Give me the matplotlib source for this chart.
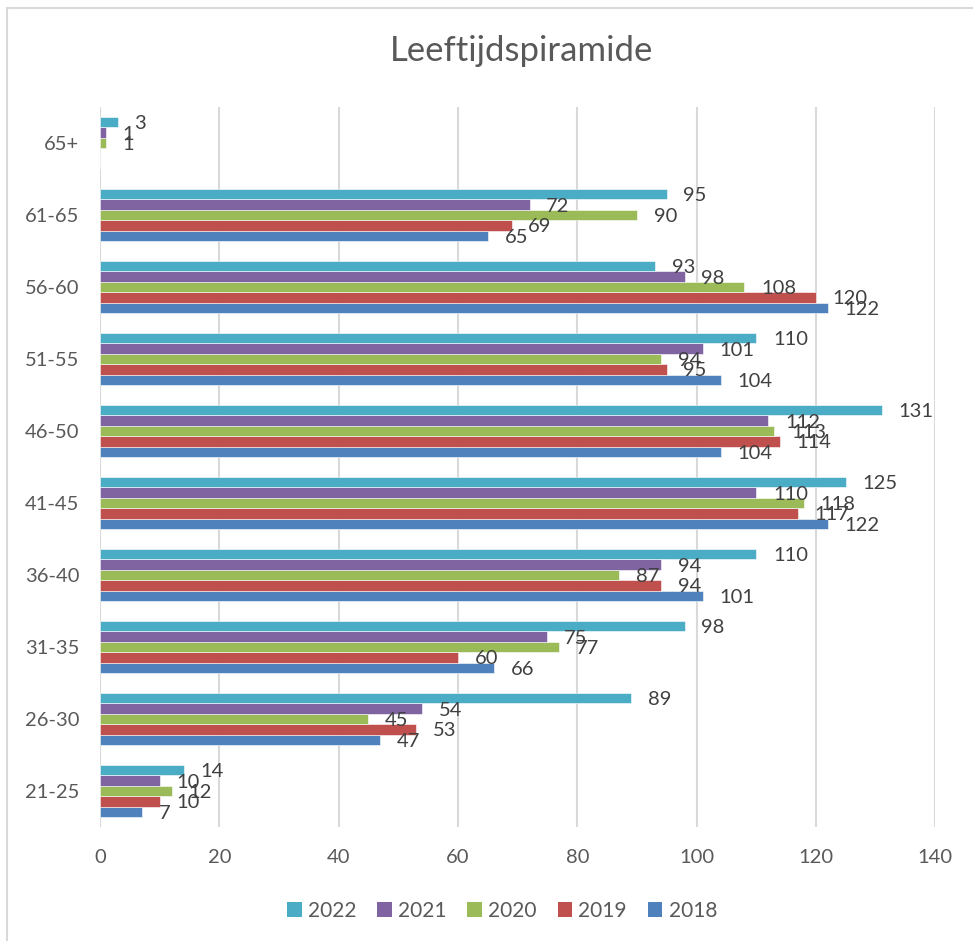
import numpy as np
import matplotlib
matplotlib.use('Agg')
import matplotlib.pyplot as plt
from matplotlib.patches import Rectangle, Patch

plt.rcParams['font.family'] = ['Lato', 'DejaVu Sans']

# data
leeftijden = ['21-25', '26-30', '31-35', '36-40', '41-45', '46-50', '51-55', '56-60', '61-65', '65+']
jaren = ['2018', '2019', '2020', '2021', '2022']
w2018 = [7, 47, 66, 101, 122, 104, 104, 122, 65, np.nan]
w2019 = [10, 53, 60, 94, 117, 114, 95, 120, 69, np.nan]
w2020 = [12, 45, 77, 87, 118, 113, 94, 108, 90, 1]
w2021 = [10, 54, 75, 94, 110, 112, 101, 98, 72, 1]
w2022 = [14, 89, 98, 110, 125, 131, 110, 93, 95, 3]
reeksen = [w2018, w2019, w2020, w2021, w2022]
kleuren = ['#4F81BD', '#C0504D', '#9BBB59', '#8064A2', '#4BACC6']

fig = plt.figure(figsize=(9.73, 9.41), dpi=100)
ax = fig.add_axes([100/973, 1 - 827/941, 835.3/973, 720/941])

y = np.arange(len(leeftijden))
h = 0.144
for j, (vals, kleur) in enumerate(zip(reeksen, kleuren)):
    vals = np.array(vals, dtype=float)
    pos = y + (j - 2) * h
    ax.barh(pos, np.nan_to_num(vals), height=h, color=kleur,
            edgecolor='white', linewidth=0.4, zorder=3)
    for p, v in zip(pos, vals):
        if np.isnan(v):
            continue
        ax.annotate(str(int(v)), (v, p), xytext=(12, -1), textcoords='offset points',
                    va='center', ha='left', fontsize=14.5, color='#404040', zorder=4)

ax.set_xlim(0, 140)
ax.set_ylim(-0.5, len(leeftijden) - 0.5)
ax.set_xticks(range(0, 141, 20))
ax.set_yticks(y)
ax.set_yticklabels(leeftijden)
ax.grid(axis='x', color='#D9D9D9', linewidth=1.5, zorder=0)
for s in ax.spines.values():
    s.set_visible(False)
ax.tick_params(axis='both', length=0, labelsize=14.5, colors='#595959')
ax.tick_params(axis='x', pad=16)
ax.tick_params(axis='y', pad=15)

fig.text(522/973, 1 - 51/941, 'Leeftijdspiramide', ha='center', va='center',
         fontsize=25, color='#595959')

handles = [Patch(facecolor=kleuren[j], label=jaren[j]) for j in range(4, -1, -1)]
fig.legend(handles=handles, loc='center', bbox_to_anchor=(502/973, 1 - 911/941),
           ncol=5, frameon=False, fontsize=15, handlelength=0.7, handleheight=0.7,
           handletextpad=0.3, columnspacing=1.0, labelcolor='#595959')

# rand rond de grafiek
fig.add_artist(Rectangle((7/973, -0.05), 1.1, 1 - 8/941 + 0.05, transform=fig.transFigure,
                         fill=False, edgecolor='#D9D9D9', linewidth=1.5))

fig.savefig('out.png', dpi=100, facecolor='white')
